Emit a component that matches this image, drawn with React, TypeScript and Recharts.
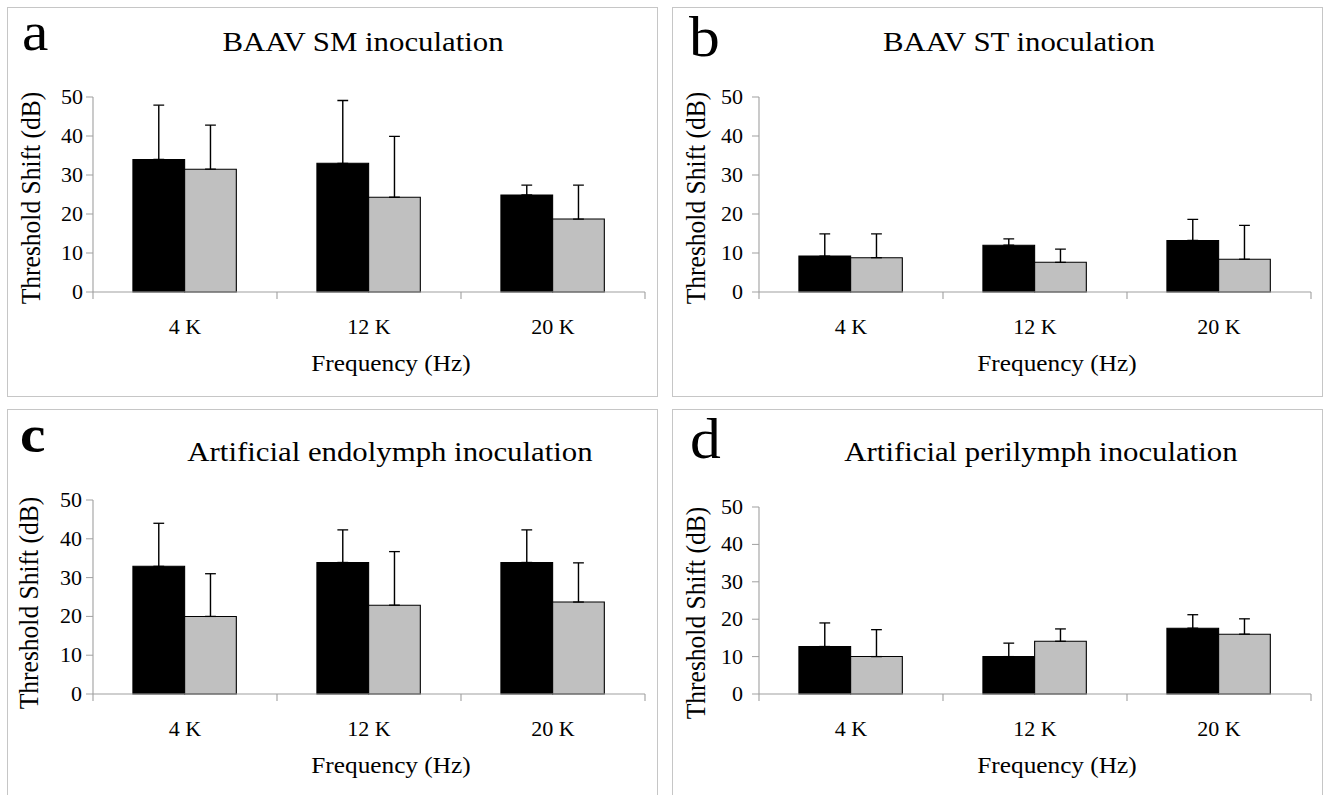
import React from 'react';
import { BarChart, Bar, XAxis, YAxis, ErrorBar } from 'recharts';

// ---------- data ----------
const categories = ['4 K', '12 K', '20 K'];
const yTicks = [0, 10, 20, 30, 40, 50];
const panelLetters = ['a', 'b', 'c', 'd'];
const panelTitles = [
  'BAAV SM inoculation',
  'BAAV ST inoculation',
  'Artificial endolymph inoculation',
  'Artificial perilymph inoculation',
];
const yAxisTitle = 'Threshold Shift (dB)';
const xAxisTitle = 'Frequency (Hz)';

// black bars (mean) and their SD (upper error)
const smBlack = [34.0, 33.0, 24.9];
const smBlackSd = [13.9, 16.1, 2.5];
const smGrey = [31.5, 24.3, 18.7];
const smGreySd = [11.3, 15.6, 8.7];

const stBlack = [9.2, 12.0, 13.2];
const stBlackSd = [5.7, 1.6, 5.4];
const stGrey = [8.8, 7.6, 8.4];
const stGreySd = [6.1, 3.4, 8.7];

const endoBlack = [32.9, 33.9, 33.9];
const endoBlackSd = [11.1, 8.4, 8.4];
const endoGrey = [20.0, 22.9, 23.7];
const endoGreySd = [11.0, 13.8, 10.1];

const periBlack = [12.7, 10.0, 17.6];
const periBlackSd = [6.3, 3.6, 3.6];
const periGrey = [10.0, 14.1, 16.0];
const periGreySd = [7.2, 3.3, 4.1];

// ---------- style ----------
const FONT = '"Liberation Serif", "Times New Roman", serif';
const S = 1.1; // horizontal stretch of the original figure
const AXIS = '#a0a0a0';
const FRAME = '#c6c6c6';
const GREY = '#c0c0c0';
const TICK_FS = 20;
const XLAB_FS = 23;
const YLAB_FS = 25.5;
const TITLE_FS = 28;

function rows(b: number[], bs: number[], g: number[], gs: number[]) {
  return categories.map((c, i) => ({
    cat: c,
    black: b[i],
    blackErr: [0, bs[i]],
    grey: g[i],
    greyErr: [0, gs[i]],
  }));
}

type Layout = {
  frame: { l: number; t: number; r: number; b: number };
  plot: { l: number; t: number; r: number; b: number };
  titleX: number;
  titleBase: number;
  letterX: number;
  letterBase: number;
  letterSize: number;
  letterBold: boolean;
  yLabX: number;
  yLabY: number;
  yTickGap: number;
};

const layouts: Layout[] = [
  {
    frame: { l: 7, t: 7, r: 658, b: 397 },
    plot: { l: 93, t: 97, r: 645, b: 292 },
    titleX: 363, titleBase: 51, letterX: 22, letterBase: 50, letterSize: 54, letterBold: false,
    yLabX: 40, yLabY: 198, yTickGap: 3,
  },
  {
    frame: { l: 672, t: 7, r: 1323, b: 397 },
    plot: { l: 759, t: 97, r: 1311, b: 292 },
    titleX: 1019, titleBase: 51, letterX: 689, letterBase: 56, letterSize: 56, letterBold: false,
    yLabX: 705, yLabY: 198, yTickGap: 9,
  },
  {
    frame: { l: 7, t: 409, r: 658, b: 800 },
    plot: { l: 93, t: 500, r: 645, b: 694 },
    titleX: 390, titleBase: 461, letterX: 20, letterBase: 452, letterSize: 52, letterBold: true,
    yLabX: 38, yLabY: 603, yTickGap: 4,
  },
  {
    frame: { l: 672, t: 409, r: 1323, b: 800 },
    plot: { l: 759, t: 507, r: 1311, b: 694 },
    titleX: 1041, titleBase: 461, letterX: 690, letterBase: 458, letterSize: 56, letterBold: false,
    yLabX: 705, yLabY: 613, yTickGap: 9,
  },
];

const panelData = [
  rows(smBlack, smBlackSd, smGrey, smGreySd),
  rows(stBlack, stBlackSd, stGrey, stGreySd),
  rows(endoBlack, endoBlackSd, endoGrey, endoGreySd),
  rows(periBlack, periBlackSd, periGrey, periGreySd),
];

function Panel({ idx }: { idx: number }) {
  const L = layouts[idx];
  const data = panelData[idx];
  const W = L.frame.r - L.frame.l;
  const H = L.frame.b - L.frame.t;
  const cw = W / S;
  const pl = (L.plot.l - L.frame.l) / S;
  const pr = (L.plot.r - L.frame.l) / S;
  const pt = L.plot.t - L.frame.t;
  const pb = L.plot.b - L.frame.t;
  const yAxisW = 60;
  const xAxisH = 90;
  const halfBandFallback = (pr - pl) / categories.length / 2;

  const XTick = (props: any) => {
    const { x, y, payload, index } = props;
    const off = payload && typeof payload.offset === 'number' && payload.offset > 3 ? payload.offset : halfBandFallback;
    const last = index === categories.length - 1;
    return (
      <g>
        <text x={x} y={y + 42} textAnchor="middle" fontSize={TICK_FS} fontFamily={FONT} fill="#000">
          {payload.value}
        </text>
        <line x1={x - off} x2={x - off} y1={y} y2={y + 7} stroke={AXIS} strokeWidth={1} />
        {last ? <line x1={x + off} x2={x + off} y1={y} y2={y + 7} stroke={AXIS} strokeWidth={1} /> : null}
      </g>
    );
  };

  const xLabel = (props: any) => {
    const vb = props.viewBox || {};
    return (
      <text
        x={vb.x + vb.width / 2 + 22 / S}
        y={vb.y + 79}
        textAnchor="middle"
        fontSize={XLAB_FS}
        fontFamily={FONT}
        fill="#000"
      >
        {xAxisTitle}
      </text>
    );
  };

  const yLabel = () => {
    const x = (L.yLabX - L.frame.l) / S;
    const y = L.yLabY - L.frame.t;
    return (
      <text
        x={x}
        y={y}
        transform={`rotate(-90 ${x} ${y})`}
        textAnchor="middle"
        fontSize={YLAB_FS}
        fontFamily={FONT}
        fill="#000"
      >
        {yAxisTitle}
      </text>
    );
  };

  return (
    <>
      <div
        style={{
          position: 'absolute',
          left: L.frame.l,
          top: L.frame.t,
          width: W,
          height: H,
          border: `1px solid ${FRAME}`,
          boxSizing: 'border-box',
          background: '#fff',
        }}
      />
      <div
        style={{
          position: 'absolute',
          left: L.frame.l,
          top: L.frame.t,
          width: cw,
          height: H,
          transform: `scaleX(${S})`,
          transformOrigin: '0 0',
        }}
      >
        <BarChart
          width={cw}
          height={H}
          data={data}
          margin={{ top: pt, left: pl - yAxisW, right: cw - pr, bottom: H - pb - xAxisH }}
          barCategoryGap="21.7%"
          barGap={0}
        >
          <XAxis
            dataKey="cat"
            interval={0}
            tickLine={false}
            tickSize={0}
            tickMargin={0}
            height={xAxisH}
            axisLine={{ stroke: AXIS, strokeWidth: 1 }}
            tick={<XTick />}
            label={xLabel}
          />
          <YAxis
            domain={[0, 50]}
            ticks={yTicks}
            interval={0}
            width={yAxisW}
            tickSize={7 / S}
            tickMargin={L.yTickGap / S}
            axisLine={{ stroke: AXIS, strokeWidth: 1 }}
            tickLine={{ stroke: AXIS, strokeWidth: 1 }}
            tick={{ fontSize: TICK_FS, fill: '#000', fontFamily: FONT }}
            label={yLabel}
          />
          <Bar dataKey="black" fill="#000" stroke="#000" strokeWidth={1} isAnimationActive={false}>
            <ErrorBar
              dataKey="blackErr"
              direction="y"
              width={5.4 / S}
              stroke="#000"
              strokeWidth={1.3}
              isAnimationActive={false}
            />
          </Bar>
          <Bar dataKey="grey" fill={GREY} stroke="#000" strokeWidth={1} isAnimationActive={false}>
            <ErrorBar
              dataKey="greyErr"
              direction="y"
              width={5.4 / S}
              stroke="#000"
              strokeWidth={1.3}
              isAnimationActive={false}
            />
          </Bar>
        </BarChart>
        <svg
          width={cw}
          height={H + L.frame.t}
          style={{ position: 'absolute', left: 0, top: -L.frame.t, pointerEvents: 'none', overflow: 'visible' }}
        >
          <text
            x={(L.letterX - L.frame.l) / S}
            y={L.letterBase}
            fontSize={L.letterSize}
            fontWeight={L.letterBold ? 'bold' : 'normal'}
            fontFamily={FONT}
            fill="#000"
          >
            {panelLetters[idx]}
          </text>
          <text
            x={(L.titleX - L.frame.l) / S}
            y={L.titleBase}
            textAnchor="middle"
            fontSize={TITLE_FS}
            fontFamily={FONT}
            fill="#000"
          >
            {panelTitles[idx]}
          </text>
        </svg>
      </div>
    </>
  );
}

export default function App() {
  return (
    <div
      style={{
        position: 'absolute',
        left: 0,
        top: 0,
        width: 1329,
        height: 795,
        overflow: 'hidden',
        background: '#fff',
      }}
    >
      {layouts.map((_, i) => (
        <Panel key={i} idx={i} />
      ))}
    </div>
  );
}
